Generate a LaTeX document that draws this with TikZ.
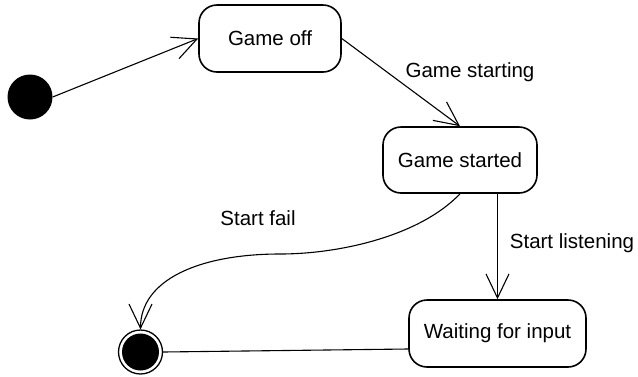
\documentclass[tikz,border=0pt]{standalone}
\usepackage{fontspec}
\setmainfont{Liberation Sans}
\usetikzlibrary{arrows.meta}
\begin{document}
\begin{tikzpicture}[x=1pt,y=-1pt,
  font=\fontsize{20.5}{24}\selectfont,
  state/.style={draw, line width=1.6pt, fill=white, rounded corners=18pt,
    inner sep=0pt, minimum height=67pt},
  trans/.style={line width=1.1pt,
    -{Straight Barb[length=24pt,width=23pt,line width=1.1pt]}},
  lbl/.style={inner sep=0pt}]
  \useasboundingbox (0,0) rectangle (638,376);

  % initial and final pseudo-states
  \node[circle, fill=black, minimum size=45pt, inner sep=0pt] (init) at (30,97) {};
  \node[circle, draw, line width=1.3pt, minimum size=44pt, inner sep=0pt,
    path picture={\fill (path picture bounding box.center) circle (18.5pt);}]
    (final) at (140.5,352) {};

  % states
  \node[state, minimum width=142pt] (off) at (270,38.5) {Game off};
  \node[state, minimum width=154pt, minimum height=66pt] (started) at (460,160) {Game started};
  \node[state, minimum width=177pt] (wait) at (497.5,333.5) {Waiting for input};

  % transitions
  \draw[trans] (init.east) -- (off.west);
  \draw[trans] (off.east) -- (started.north);
  \draw[trans] (started.south -| wait.north) -- (wait.north);
  \draw[trans] (started.south)
     .. controls +(-40,42) and +(60,0) .. (280,254)
     .. controls +(-80,0) and +(0,-50) .. (final.north);
  \draw[line width=1.1pt] ([yshift=-15.5pt]wait.west) -- (final.east);

  % transition labels
  \node[lbl] (lstarting) at (470,72) {Game starting};
  \node[lbl] (llisten) at (572,243) {Start listening};
  \node[lbl] (lfail) at (258,218) {Start fail};
\end{tikzpicture}
\end{document}
